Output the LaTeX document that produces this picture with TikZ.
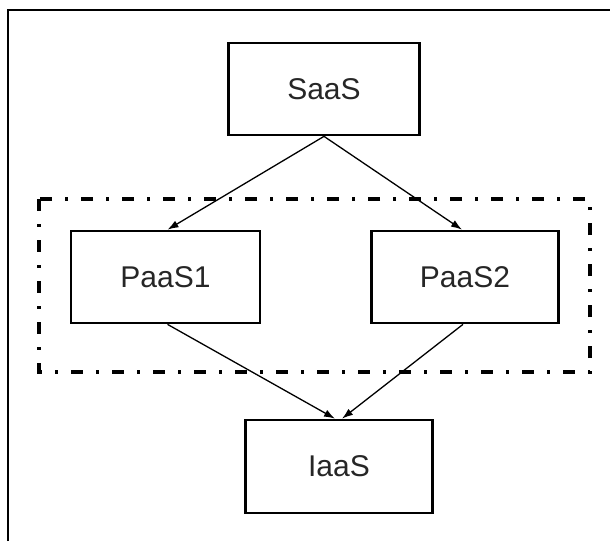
\documentclass[tikz,border=0pt]{standalone}
\usepackage{fontspec}
\setmainfont{Liberation Sans}
\usetikzlibrary{arrows.meta}
\begin{document}
\begin{tikzpicture}[x=1pt,y=1pt,
  layer/.style={draw=black, line width=2.7pt, rectangle, inner sep=0pt,
    minimum width=189pt, minimum height=92pt,
    font=\fontsize{30}{36}\selectfont, text=black!85},
  link/.style={draw=black, line width=1.3pt, -{Latex[length=11pt,width=7.5pt]}},
  groupbox/.style={draw=black, line width=3.2pt,
    dash pattern=on 12pt off 13pt on 3pt off 13pt},
  frame/.style={draw=black, line width=2pt}]
  \useasboundingbox (0,0) rectangle (610,-541);
  % frame edges
  \draw[frame] (8,-541) -- (8,-10) -- (610,-10);
  % platform group
  \draw[groupbox] (39,-199) rectangle (590,-372);
  % service layers
  \node[layer, minimum width=191pt] (saas) at (324,-89) {SaaS};
  \node[layer] (p1) at (165.5,-277) {PaaS1};
  \node[layer, minimum width=187pt] (p2) at (465,-277) {PaaS2};
  \node[layer, minimum width=187pt, minimum height=93pt] (iaas) at (339,-466.5) {IaaS};
  % dependencies
  \draw[link] (saas.south) -- ([xshift=2pt]p1.north);
  \draw[link] (saas.south) -- ([xshift=-3pt]p2.north);
  \draw[link] ([xshift=2pt]p1.south) -- ([xshift=-4pt]iaas.north);
  \draw[link] ([xshift=-2pt]p2.south) -- ([xshift=3pt]iaas.north);
\end{tikzpicture}
\end{document}
